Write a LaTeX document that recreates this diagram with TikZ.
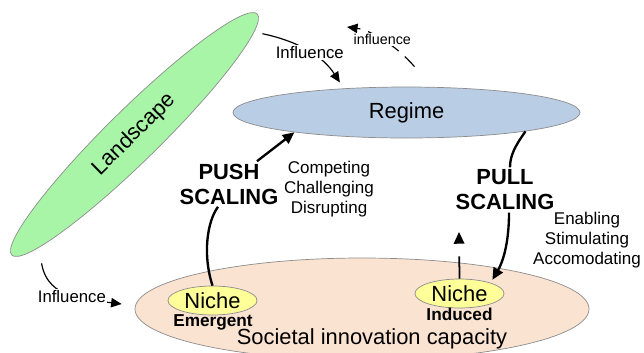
\documentclass[tikz,border=0pt]{standalone}
\usepackage{fontspec}
\setmainfont{Liberation Sans}
\usetikzlibrary{arrows.meta, positioning, shapes.geometric, calc}
\definecolor{landgreen}{HTML}{A8F5A8}
\definecolor{regimeblue}{HTML}{B9CDE5}
\definecolor{societypeach}{HTML}{FBE3D2}
\definecolor{nicheyellow}{HTML}{FFFF99}
\definecolor{edgegray}{HTML}{8C8C8C}

\begin{document}
\begin{tikzpicture}[x=0.03cm, y=-0.03cm,
  field/.style={ellipse, draw=edgegray, line width=0.6pt, inner sep=0pt, font=\fontsize{18.7}{21.3}\selectfont},
  niche/.style={field, fill=nicheyellow, minimum width=2.67cm, minimum height=0.87cm},
  bigtxt/.style={inner sep=2pt, align=center, font=\fontsize{18.7}{21.3}\selectfont\bfseries},
  smalltxt/.style={inner sep=2pt, align=center, font=\fontsize{14.5}{17.4}\selectfont},
  subtxt/.style={inner sep=2pt, font=\fontsize{14.7}{17}\selectfont\bfseries},
  tag/.style={inner sep=1pt, fill=white, font=\fontsize{14.3}{17}\selectfont},
  thickline/.style={line width=2pt},
  scaling/.style={thickline, -{Triangle[length=10pt, width=9pt]}},
  influ/.style={line width=1pt, -{Triangle[length=9pt, width=8pt]}}
]
  \useasboundingbox (0,0) rectangle (644,352);

  % Fields
  \node[field, fill=societypeach, minimum width=13.62cm, minimum height=3.06cm] (soc) at (362,309) {};
  \node[anchor=base, font=\fontsize{18.7}{21.3}\selectfont] (soctxt) at (372,344) {Societal innovation capacity};
  \node[field, fill=regimeblue, minimum width=10.41cm, minimum height=1.53cm] (regime) at (406.5,112.5) {Regime};
  \node[field, fill=landgreen, rotate=44.5, minimum width=10.32cm, minimum height=1.56cm] (land) at (134.5,134.5) {Landscape};

  % Niches
  \node[niche] (nicheE) at (212.5,300.5) {Niche};
  \node[niche] (nicheI) at (459.5,293.5) {Niche};
  \node[subtxt] (emerg) at (213,322) {Emergent};
  \node[subtxt] (induc) at (459.5,314) {Induced};

  % Scaling labels
  \node[bigtxt] (push) at (229,184) {PUSH\\SCALING};
  \node[smalltxt] (compet) at (329,189) {Competing\\Challenging\\Disrupting};
  \node[bigtxt] (pull) at (505,190) {PULL\\SCALING};
  \node[smalltxt] (enab) at (587,240) {Enabling\\Stimulating\\Accomodating};

  % Free ends
  \coordinate (indup) at (459,232);
  \coordinate (inflback) at (347,27);

  % Push scaling
  \draw[thickline] (nicheE.north) .. controls +(-10,-31) and +(-11,15) .. ([shift={(-11,0)}]push.south);
  \draw[scaling] ([shift={(28,0)}]push.north) -- (regime.190);

  % Pull scaling
  \draw[thickline] (regime.-9) .. controls +(-10,14) and +(0,-12) .. ([shift={(5,0)}]pull.north);
  \draw[scaling, shorten >=3pt] ([shift={(4,0)}]pull.south) .. controls +(0,36) and +(10,-17) .. (nicheI.19);
  \draw[line width=1.5pt, dash pattern=on 19pt off 30pt, -{Triangle[length=10pt, width=9pt]}] (nicheI.north) -- (indup);

  % Influences
  \draw[influ, shorten >=6pt] ([shift={(5,20)}]land.east) .. controls +(38,8) and +(-20,-31) .. (regime.159)
    node[tag, pos=0.5] {Influence};
  \draw[influ, dash pattern=on 12pt off 7pt] ([shift={(8,-20)}]regime.north) .. controls +(-19,-22) and +(23,3) .. (inflback)
    node[tag, pos=0.5, font=\fontsize{12.2}{14}\selectfont] {influence};
  \draw[influ] ([shift={(30,8)}]land.west) .. controls +(6,37) and +(-32,-4) .. ([shift={(-13,-5)}]soc.west)
    node[tag, pos=0.5] {Influence};
\end{tikzpicture}
\end{document}
